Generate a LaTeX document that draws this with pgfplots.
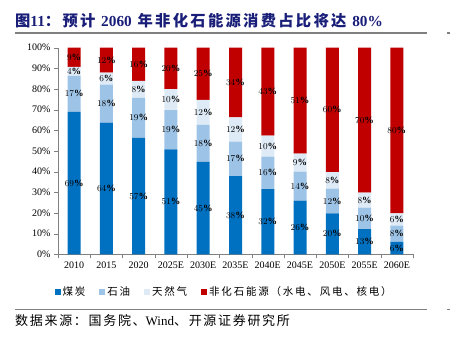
\documentclass[border=0pt]{standalone}
\usepackage{pgfplots}
\pgfplotsset{compat=1.18}
\usepackage{pgfplotstable}
\usepackage{fontspec}
\setmainfont{Liberation Serif}
\newfontfamily\cjk{Noto Sans CJK SC}
\newfontfamily\cjktitle{Noto Sans CJK SC}[LetterSpace=15]
\newfontfamily\cjkleg{Noto Sans CJK SC}[LetterSpace=17]
\newfontfamily\cjksrc{Noto Sans CJK SC}[LetterSpace=13]
\definecolor{coal}{RGB}{0,112,192}
\definecolor{oil}{RGB}{157,195,230}
\definecolor{gas}{RGB}{222,235,247}
\definecolor{nonf}{RGB}{192,0,0}
\definecolor{titleblue}{RGB}{25,30,120}
\definecolor{axisgray}{RGB}{128,128,128}

\pgfplotstableread{
x coal oil gas non lc lo lg ln
0 69.0 17.4 4.3 9.3 69 17 4 9
1 63.7 18.4 5.8 12.1 64 18 6 12
2 56.4 19.3 8.2 16.1 57 19 8 16
3 50.8 19.0 10.1 20.1 51 19 10 20
4 44.7 18.0 12.1 25.2 45 18 12 25
5 37.9 16.6 11.8 33.7 38 17 12 34
6 31.6 15.7 10.1 42.6 32 16 10 43
7 26.0 14.0 8.7 51.3 26 14 9 51
8 19.8 12.0 8.0 60.2 20 12 8 60
9 12.2 10.4 7.2 70.2 13 10 8 70
10 6.0 7.9 5.9 80.2 6 8 6 80
}\datatable
\pgfplotstablecreatecol[create col/expr={\thisrow{coal}/2}]{m1}\datatable
\pgfplotstablecreatecol[create col/expr={\thisrow{coal}+\thisrow{oil}/2}]{m2}\datatable
\pgfplotstablecreatecol[create col/expr={\thisrow{coal}+\thisrow{oil}+\thisrow{gas}/2}]{m3}\datatable
\pgfplotstablecreatecol[create col/expr={(\thisrow{coal}+\thisrow{oil}+\thisrow{gas}+100)/2}]{m4}\datatable

\begin{document}
\begin{tikzpicture}
\path[use as bounding box] (0pt,0pt) rectangle (450pt,-341pt);
% title
\node[anchor=west, text=titleblue, font=\cjktitle\bfseries\fontsize{15.3}{17}\selectfont, inner sep=0pt] at (15pt,-21pt)
  {图{\rmfamily 11}：预计 {\rmfamily 2060} 年非化石能源消费占比将达 {\rmfamily 80\%}};
\draw[axisgray, line width=1.5pt] (15pt,-33pt) -- (427pt,-33pt);
\draw[axisgray, line width=1.5pt] (447pt,-33pt) -- (450pt,-33pt);
\begin{axis}[
  at={(58pt,-254.3pt)}, anchor=south west,
  scale only axis, width=355pt, height=206.6pt,
  ybar stacked, bar width=13pt,
  xmin=-0.5, xmax=10.5, ymin=0, ymax=100,
  axis x line*=bottom, axis y line*=left,
  axis line style={-, axisgray},
  tick align=outside,
  xtick={0,...,10},
  xticklabels={2010,2015,2020,2025E,2030E,2035E,2040E,2045E,2050E,2055E,2060E},
  major x tick style={draw=none},
  minor xtick={-0.5,0.5,...,10.5},
  minor tick length=4pt,
  minor x tick style={axisgray},
  ytick={0,10,...,100},
  major tick length=4pt,
  y tick style={axisgray},
  yticklabel={\pgfmathprintnumber{\tick}\%},
  /pgf/number format/assume math mode=true,
  tick label style={font=\fontsize{10}{12}\selectfont, text=black},
  legend columns=4,
  legend style={at={(0.468,-0.182)}, anchor=center, draw=none, fill=none,
    font=\cjkleg\fontsize{10.5}{12}\selectfont,
    /tikz/every even column/.append style={column sep=12pt}},
  legend image code/.code={\fill[#1] (0pt,-3pt) rectangle (6pt,3pt);},
]
\addplot[fill=coal, draw=none] table[x=x, y=coal]{\datatable};
\addplot[fill=oil, draw=none] table[x=x, y=oil]{\datatable};
\addplot[fill=gas, draw=none] table[x=x, y=gas]{\datatable};
\addplot[fill=nonf, draw=none] table[x=x, y=non]{\datatable};
\legend{煤炭,石油,天然气,非化石能源（水电、风电、核电）}
\end{axis}
\begin{axis}[
  at={(58pt,-254.3pt)}, anchor=south west,
  scale only axis, width=355pt, height=206.6pt,
  xmin=-0.5, xmax=10.5, ymin=0, ymax=100,
  hide axis, clip=false,
  nodes near coords={\pgfmathprintnumber{\pgfplotspointmeta}\%},
  point meta=explicit,
  every node near coord/.append style={anchor=center, font=\bfseries\fontsize{9.5}{11}\selectfont, text=black, inner sep=0pt},
]
\addplot[only marks, mark=none] table[x=x, y=m1, meta=lc]{\datatable};
\addplot[only marks, mark=none] table[x=x, y=m2, meta=lo]{\datatable};
\addplot[only marks, mark=none] table[x=x, y=m3, meta=lg]{\datatable};
\addplot[only marks, mark=none] table[x=x, y=m4, meta=ln]{\datatable};
\end{axis}
\draw[axisgray, line width=1pt] (15pt,-309pt) -- (427pt,-309pt);
\draw[axisgray, line width=1pt] (447pt,-309pt) -- (450pt,-309pt);
\node[anchor=west, font=\cjksrc\fontsize{13}{15}\selectfont, inner sep=0pt] at (15pt,-321pt)
  {数据来源：国务院、{\rmfamily Wind}、开源证券研究所};
\end{tikzpicture}
\end{document}
